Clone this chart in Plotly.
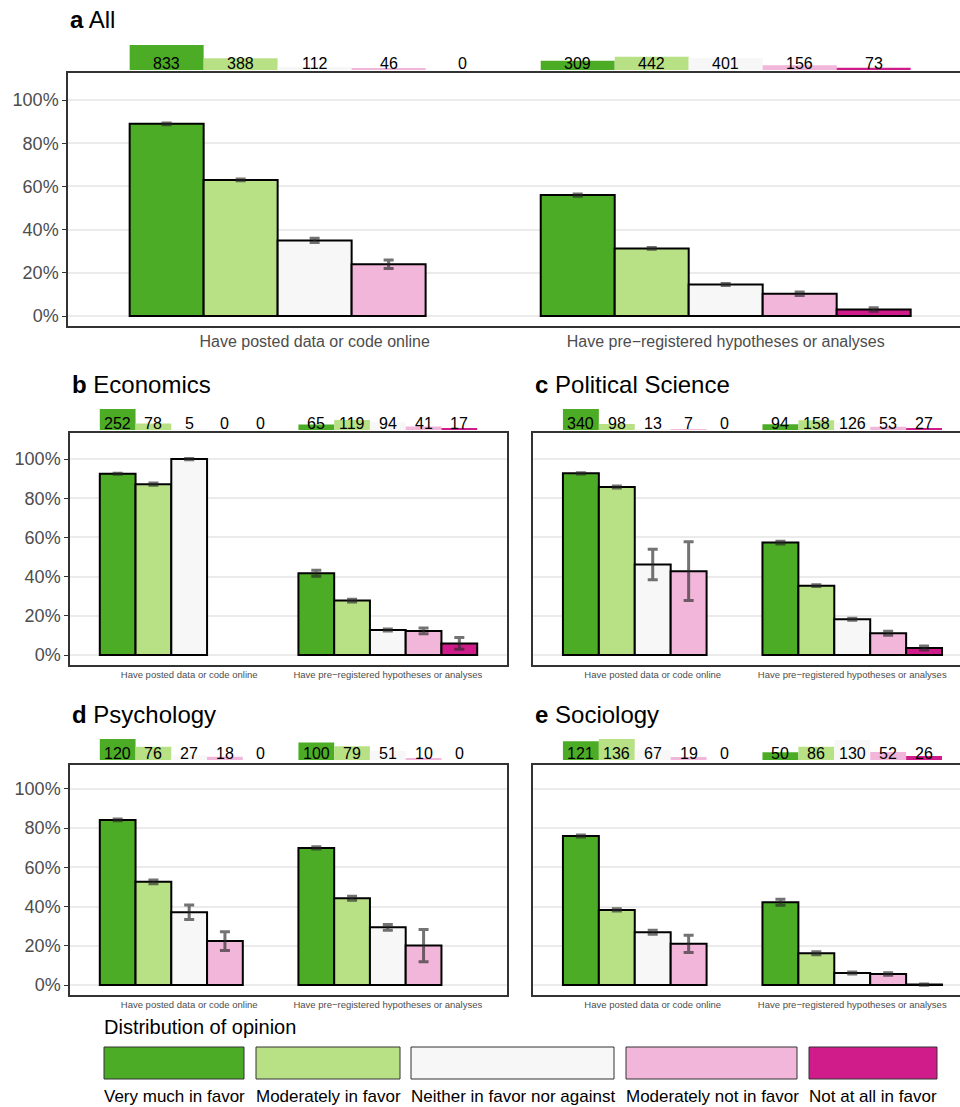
import plotly.graph_objects as go

W, H = 960, 1107
categories = ["Very much in favor", "Moderately in favor", "Neither in favor nor against",
              "Moderately not in favor", "Not at all in favor"]
colors = ["#4DAC26", "#B8E186", "#F7F7F7", "#F1B6DA", "#D01C8B"]
groups = ["Have posted data or code online", "Have pre\u2212registered hypotheses or analyses"]

# percentages (posted, prereg) per opinion category; None = no respondents
all_posted = [89.0, 63.0, 35.0, 24.0, None]
all_posted_err = [0.4, 0.4, 1.0, 2.0, None]
all_prereg = [56.0, 31.3, 14.6, 10.3, 3.0]
all_prereg_err = [0.5, 0.4, 0.5, 0.8, 0.8]
all_n_posted = [833, 388, 112, 46, 0]
all_n_prereg = [309, 442, 401, 156, 73]

eco_posted = [92.5, 87.2, 100.0, None, None]
eco_posted_err = [0.3, 0.6, 0.3, None, None]
eco_prereg = [41.7, 27.8, 12.8, 12.3, 5.9]
eco_prereg_err = [1.5, 0.7, 0.5, 1.5, 3.0]
eco_n_posted = [252, 78, 5, 0, 0]
eco_n_prereg = [65, 119, 94, 41, 17]

pol_posted = [92.7, 85.7, 46.2, 42.8, None]
pol_posted_err = [0.3, 0.5, 7.8, 15.0, None]
pol_prereg = [57.4, 35.4, 18.2, 11.1, 3.6]
pol_prereg_err = [0.7, 0.5, 0.5, 1.0, 1.0]
pol_n_posted = [340, 98, 13, 7, 0]
pol_n_prereg = [94, 158, 126, 53, 27]

psy_posted = [84.2, 52.6, 37.1, 22.4, None]
psy_posted_err = [0.4, 1.0, 3.7, 4.8, None]
psy_prereg = [69.9, 44.2, 29.4, 20.1, None]
psy_prereg_err = [0.6, 1.0, 1.5, 8.2, None]
psy_n_posted = [120, 76, 27, 18, 0]
psy_n_prereg = [100, 79, 51, 10, 0]

soc_posted = [76.0, 38.3, 26.9, 21.0, None]
soc_posted_err = [0.5, 0.6, 1.0, 4.4, None]
soc_prereg = [42.2, 16.2, 6.1, 5.6, 0.2]
soc_prereg_err = [1.5, 0.8, 0.5, 0.6, 0.3]
soc_n_posted = [121, 136, 67, 19, 0]
soc_n_prereg = [50, 86, 130, 52, 26]

ytick_vals = [0, 20, 40, 60, 80, 100]
ytick_text = ["0%", "20%", "40%", "60%", "80%", "100%"]

def px_x(a, b):
    return [a / W, min(b / W, 1.0)]

def px_y(top, bot):
    return [1 - bot / H, 1 - top / H]

panels = [
    dict(letter="a", name="All", xd=(68, 960), plot=(73, 326), strip=(45, 70), yr=[-4.6, 112.5], xr=[0.4, 2.57],
         data=(all_posted, all_posted_err, all_prereg, all_prereg_err, all_n_posted, all_n_prereg),
         title_y=20, xfont=16, nfont=16, ylab=True, right=False),
    dict(letter="b", name="Economics", xd=(70, 507), plot=(433, 665), strip=(409, 430), yr=[-5.1, 113.3], xr=[0.4, 2.6],
         data=(eco_posted, eco_posted_err, eco_prereg, eco_prereg_err, eco_n_posted, eco_n_prereg),
         title_y=384, xfont=9.5, nfont=16, ylab=True, right=True),
    dict(letter="c", name="Political Science", xd=(533, 960), plot=(433, 665), strip=(409, 430), yr=[-5.1, 113.3], xr=[0.4, 2.54],
         data=(pol_posted, pol_posted_err, pol_prereg, pol_prereg_err, pol_n_posted, pol_n_prereg),
         title_y=384, xfont=9.5, nfont=16, ylab=False, right=False),
    dict(letter="d", name="Psychology", xd=(70, 507), plot=(765, 995), strip=(739, 760), yr=[-5.1, 112.2], xr=[0.4, 2.6],
         data=(psy_posted, psy_posted_err, psy_prereg, psy_prereg_err, psy_n_posted, psy_n_prereg),
         title_y=714, xfont=9.5, nfont=16, ylab=True, right=True),
    dict(letter="e", name="Sociology", xd=(533, 960), plot=(765, 995), strip=(739, 760), yr=[-5.1, 112.2], xr=[0.4, 2.54],
         data=(soc_posted, soc_posted_err, soc_prereg, soc_prereg_err, soc_n_posted, soc_n_prereg),
         title_y=714, xfont=9.5, nfont=16, ylab=False, right=False),
]

fig = go.Figure()
layout = {}
annotations = []
bw = 0.18
offsets = [(-2 + k) * bw for k in range(5)]

xn = lambda i: "xaxis" if i == 1 else f"xaxis{i}"
yn = lambda i: "yaxis" if i == 1 else f"yaxis{i}"
xref = lambda i: "x" if i == 1 else f"x{i}"
yref = lambda i: "y" if i == 1 else f"y{i}"

ax = 1
for p in panels:
    xa, ya = ax, ax + 1       # main
    xs, ys = ax + 2, ax + 3   # strip
    ax += 4
    posted, perr, prereg, prerr, npost, npre = p["data"]
    for k in range(5):
        xs_k, ys_k, es_k = [], [], []
        for gi, (vals, errs) in enumerate([(posted, perr), (prereg, prerr)]):
            if vals[k] is not None:
                xs_k.append(gi + 1 + offsets[k]); ys_k.append(vals[k]); es_k.append(errs[k])
        fig.add_trace(go.Bar(x=xs_k, y=ys_k, width=bw, xaxis=xref(xa), yaxis=yref(ya),
                             marker=dict(color=colors[k], line=dict(color="black", width=2)),
                             error_y=dict(type="data", array=es_k, color="rgba(40,40,40,0.65)", thickness=3, width=5),
                             showlegend=False, hoverinfo="skip"))
        cx = [1 + offsets[k], 2 + offsets[k]]
        fig.add_trace(go.Bar(x=cx, y=[npost[k], npre[k]], width=bw, xaxis=xref(xs), yaxis=yref(ys),
                             marker=dict(color=colors[k], line=dict(width=0)), showlegend=False, hoverinfo="skip"))
        for gi, n in enumerate([npost[k], npre[k]]):
            annotations.append(dict(x=cx[gi], y=0, xref=xref(xs), yref=yref(ys), text=str(n), showarrow=False,
                                    yanchor="bottom", yshift=-4, font=dict(size=p["nfont"], color="black",
                                    family="Liberation Sans, Arial")))
    maxn = max(npost + npre)
    layout[xn(xa)] = dict(domain=px_x(*p["xd"]), range=p["xr"], tickvals=[1, 2], ticktext=groups,
                          tickfont=dict(size=p["xfont"], color="#4D4D4D"), ticks="", showgrid=False,
                          zeroline=False, showline=True, mirror=True, linecolor="#333333", linewidth=1.5,
                          anchor=yref(ya), fixedrange=True)
    layout[yn(ya)] = dict(domain=px_y(*p["plot"]), range=p["yr"], tickvals=ytick_vals, ticktext=ytick_text,
                          showticklabels=p["ylab"],
                          tickfont=dict(size=18, color="#4D4D4D"), ticks="outside" if p["ylab"] else "",
                          ticklen=4, tickcolor="#333333",
                          showgrid=True, gridcolor="#EBEBEB", gridwidth=1.5, zeroline=False, showline=True,
                          mirror=p["right"], linecolor="#333333", linewidth=1.5, anchor=xref(xa), fixedrange=True)
    layout[xn(xs)] = dict(domain=px_x(*p["xd"]), range=p["xr"], visible=False, anchor=yref(ys))
    layout[yn(ys)] = dict(domain=px_y(*p["strip"]), range=[0, maxn], visible=False, anchor=xref(xs))
    annotations.append(dict(x=p["xd"][0] / W, y=1 - p["title_y"] / H, xref="paper", yref="paper",
                            text=f"<b>{p['letter']}</b> {p['name']}", showarrow=False, xanchor="left",
                            yanchor="middle", font=dict(size=24, color="black", family="Liberation Sans, Arial")))

# legend
shapes = []
annotations.append(dict(x=102 / W, y=1 - 1027 / H, xref="paper", yref="paper", text="Distribution of opinion",
                        showarrow=False, xanchor="left", yanchor="middle", font=dict(size=20, color="black")))
key_x = [(104, 244), (256, 400), (411, 614), (626, 797), (809, 937)]
for k, (a, b) in enumerate(key_x):
    shapes.append(dict(type="rect", xref="paper", yref="paper", x0=a / W, x1=b / W, y0=1 - 1079 / H,
                       y1=1 - 1047 / H, fillcolor=colors[k], line=dict(color="#333333", width=1)))
    annotations.append(dict(x=(a - 2) / W, y=1 - 1096 / H, xref="paper", yref="paper", text=categories[k],
                            showarrow=False, xanchor="left", yanchor="middle", font=dict(size=17, color="black")))

fig.update_layout(width=W, height=H, margin=dict(l=0, r=0, t=0, b=0), plot_bgcolor="white",
                  paper_bgcolor="white", barmode="overlay", annotations=annotations, shapes=shapes,
                  font=dict(family="Liberation Sans, Arial"), **layout)
fig.write_html("out.html", config={"displayModeBar": False},
               post_script="document.body.style.margin='0';document.body.style.overflow='hidden';")
